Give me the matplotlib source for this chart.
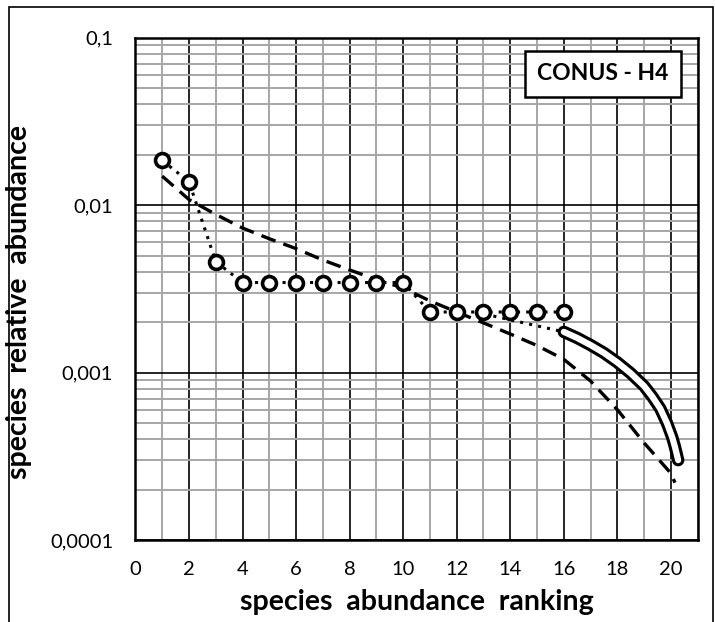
import matplotlib
matplotlib.use("Agg")
import matplotlib.pyplot as plt
from matplotlib.patches import Rectangle
from matplotlib.ticker import FixedLocator, LogLocator, NullFormatter

plt.rcParams['font.family'] = ['Lato', 'DejaVu Sans']

# observed species (open circles)
rank = [1, 2, 3, 4, 5, 6, 7, 8, 9, 10, 11, 12, 13, 14, 15, 16]
abund = [0.0185, 0.0138, 0.0046, 0.00345, 0.00345, 0.00345, 0.00345, 0.00345,
         0.00345, 0.00345, 0.0023, 0.0023, 0.0023, 0.0023, 0.0023, 0.0023]

# dotted link down to the start of the tail curve
link_x = [12.7, 16.0]
link_y = [0.0023, 0.00175]

# dashed model curve
model_x = [1, 2, 3, 4, 5, 6, 7, 8, 9, 10, 11, 12, 13, 14, 15, 16,
           17, 18, 19, 20, 20.15]
model_y = [0.0149, 0.0108, 0.0088, 0.0073, 0.0063, 0.0055, 0.0047, 0.0041,
           0.0036, 0.0032, 0.00268, 0.0023, 0.00198, 0.0017, 0.00145, 0.0012,
           0.00089, 0.00060, 0.00038, 0.00025, 0.00022]

# double-line tail curve
tail_x = [16, 16.5, 17, 17.5, 18, 18.5, 19, 19.3, 19.6, 19.85, 20.05, 20.15, 20.27]
tail_y = [0.00175, 0.00161, 0.00146, 0.00131, 0.00115, 0.00099, 0.00083,
          0.00072, 0.00061, 0.0005, 0.00041, 0.00036, 0.0003]

y_ticks = [0.0001, 0.001, 0.01, 0.1]
y_labels = ["0,0001", "0,001", "0,01", "0,1"]
x_ticks = [0, 2, 4, 6, 8, 10, 12, 14, 16, 18, 20]

fig = plt.figure(figsize=(7.15, 6.22), dpi=100)
ax = fig.add_axes([0.1894, 0.1318, 0.7864, 0.8076])
ax.set_yscale("log")
ax.set_xlim(0, 21)
ax.set_ylim(0.0001, 0.1)

# grid
ax.xaxis.set_major_locator(FixedLocator(x_ticks))
ax.xaxis.set_minor_locator(FixedLocator(range(0, 22)))
ax.yaxis.set_major_locator(FixedLocator(y_ticks))
ax.yaxis.set_minor_locator(LogLocator(base=10, subs=range(2, 10)))
ax.yaxis.set_minor_formatter(NullFormatter())
ax.grid(which="minor", color="#a6a6a6", linewidth=1.4, zorder=0)
ax.grid(which="major", color="black", linewidth=1.2, zorder=0)
ax.set_axisbelow(True)

ax.set_yticklabels(y_labels)
ax.set_xticklabels([str(v) for v in x_ticks])
ax.tick_params(which="both", length=0)
ax.tick_params(axis="x", pad=15, labelsize=14.5)
ax.tick_params(axis="y", pad=16, labelsize=14.5)
for s in ax.spines.values():
    s.set_linewidth(1.8)

# curves
ax.plot(model_x, model_y, color="black", linestyle=(0, (4.5, 2.5)), linewidth=2.4, zorder=3)
ax.plot(link_x, link_y, color="black", linestyle=(0, (1, 2)), linewidth=2.2, zorder=3)
ax.plot(tail_x, tail_y, color="black", linewidth=9, solid_capstyle="round",
        solid_joinstyle="round", zorder=4)
ax.plot(tail_x, tail_y, color="white", linewidth=4.5, solid_capstyle="round",
        solid_joinstyle="round", zorder=5)
ax.plot(rank, abund, color="black", linestyle=(0, (1, 2)), linewidth=2.2,
        marker="o", markersize=10, markerfacecolor="white",
        markeredgecolor="black", markeredgewidth=2.6, zorder=6)

ax.set_xlabel("species  abundance  ranking", fontsize=20.5, fontweight="bold", labelpad=8)
ax.set_ylabel("species  relative  abundance", fontsize=20.5, fontweight="bold")
ax.yaxis.set_label_coords(-0.184, 0.474)

ax.text(0.8316, 0.928, "CONUS - H4", transform=ax.transAxes, ha="center", va="center",
        fontsize=16.5, fontweight="bold",
        bbox=dict(boxstyle="square,pad=0.55", facecolor="white",
                  edgecolor="black", linewidth=1.8), zorder=7)

# outer frame of the picture
fig.patches.append(Rectangle((9 / 715, -0.02), 704 / 715, 1.02 - 7 / 622,
                             transform=fig.transFigure, fill=False,
                             edgecolor="black", linewidth=1.2))

plt.savefig("out.png", dpi=100)
